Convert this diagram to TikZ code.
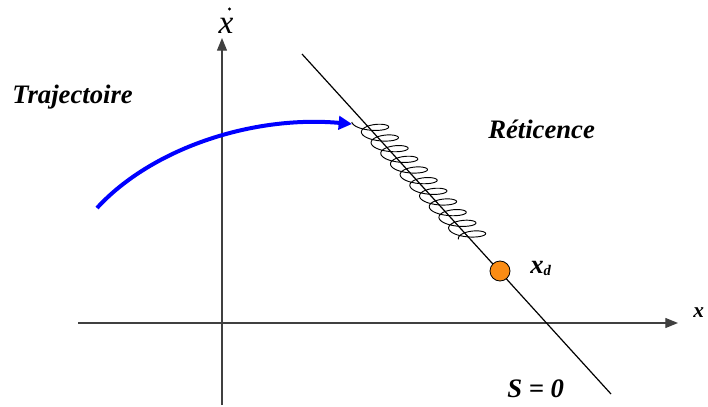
\documentclass[tikz,border=0pt]{standalone}
\usepackage{fontspec}
\setmainfont{Liberation Serif}
\usetikzlibrary{arrows.meta}
\definecolor{dorange}{RGB}{250,140,20}
\begin{document}
\begin{tikzpicture}[x=0.75pt,y=-0.75pt,
  lbl/.style={font=\fontsize{20}{24}\selectfont\bfseries\itshape, inner sep=0, anchor=base west},
  axis/.style={draw=black!75, line width=0.9pt, -{Triangle[length=9.5pt,width=7.5pt]}},
  traj/.style={draw=blue, line width=3pt, -{Triangle[length=10pt,width=10pt]}},
  surf/.style={draw=black, line width=0.9pt},
  chat/.style={draw=black, line width=0.7pt},
  pt/.style={circle, draw=black, fill=dorange, minimum size=15pt, inner sep=0, line width=0.6pt}]
\useasboundingbox (0,0) rectangle (708,407);
% axes
\coordinate (xs) at (78,323); \coordinate (xe) at (678,323);
\coordinate (ys) at (222,405); \coordinate (ye) at (222,38);
\draw[axis] (xs) -- (xe);
\draw[axis] (ys) -- (ye);
% sliding surface
\coordinate (la) at (302,54); \coordinate (lb) at (611,394);
\draw[surf] (la) -- (lb);
% chattering
\draw[chat] plot[domain=0:3960, samples=800]
  ({302+309*(0.2+0.345*\x/3960) + 4 - 16*cos(\x)}, {54+340*(0.2+0.345*\x/3960) + 5.5*sin(\x)});
% desired point
\node[pt] (xd) at (500,271) {};
% trajectory
\coordinate (ts) at (97,208); \coordinate (te) at (352,124);
\draw[traj] (ts) .. controls (150,150) and (250,115) .. (te);
% labels
\node[lbl] (trajl) at (12,103) {Trajectoire};
\node[lbl] (ret) at (488,138) {Réticence};
\node[lbl] (s0) at (507,397) {S = 0};
\node[lbl] (xdl) at (530,273) {x\raisebox{-1.5pt}{\fontsize{11}{13}\selectfont\bfseries\itshape d}};
\node[lbl, font=\fontsize{16}{20}\selectfont\bfseries\itshape] (xl) at (693,317) {x};
\node[font=\fontsize{25}{28}\selectfont\itshape, inner sep=0, anchor=base] (xdot) at (226,33) {x};
\fill ([shift={(3.5,-24)}]xdot.base) circle (1.6);
\end{tikzpicture}
\end{document}
